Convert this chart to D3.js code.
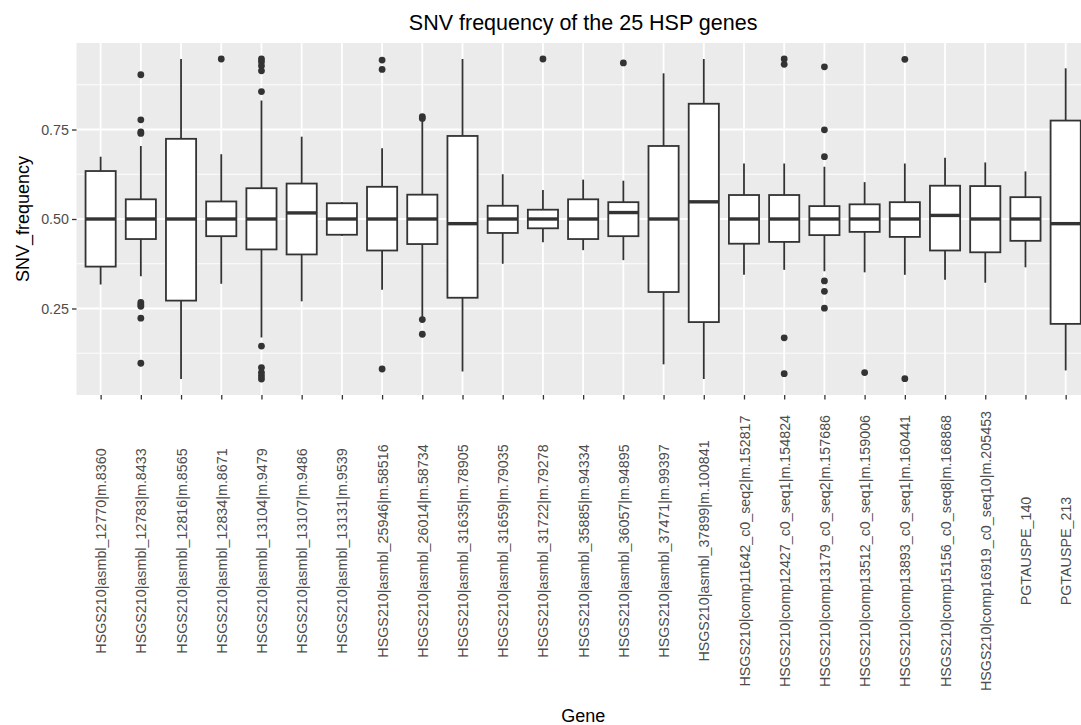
<!DOCTYPE html>
<html>
<head>
<meta charset="utf-8">
<script src="https://cdn.jsdelivr.net/npm/d3@7"></script>
<style>
  html, body { margin: 0; padding: 0; background: #fff; }
  svg { display: block; font-family: "Liberation Sans", Arial, Helvetica, sans-serif; }
</style>
</head>
<body>
<svg id="chart" width="1081" height="725"></svg>
<script>
// Genes on the x axis
const genes = [
  "HSGS210|asmbl_12770|m.8360",
  "HSGS210|asmbl_12783|m.8433",
  "HSGS210|asmbl_12816|m.8565",
  "HSGS210|asmbl_12834|m.8671",
  "HSGS210|asmbl_13104|m.9479",
  "HSGS210|asmbl_13107|m.9486",
  "HSGS210|asmbl_13131|m.9539",
  "HSGS210|asmbl_25946|m.58516",
  "HSGS210|asmbl_26014|m.58734",
  "HSGS210|asmbl_31635|m.78905",
  "HSGS210|asmbl_31659|m.79035",
  "HSGS210|asmbl_31722|m.79278",
  "HSGS210|asmbl_35885|m.94334",
  "HSGS210|asmbl_36057|m.94895",
  "HSGS210|asmbl_37471|m.99397",
  "HSGS210|asmbl_37899|m.100841",
  "HSGS210|comp11642_c0_seq2|m.152817",
  "HSGS210|comp12427_c0_seq1|m.154824",
  "HSGS210|comp13179_c0_seq2|m.157686",
  "HSGS210|comp13512_c0_seq1|m.159006",
  "HSGS210|comp13893_c0_seq1|m.160441",
  "HSGS210|comp15156_c0_seq8|m.168868",
  "HSGS210|comp16919_c0_seq10|m.205453",
  "PGTAUSPE_140",
  "PGTAUSPE_213"
];

// Box statistics of SNV frequency per gene
const whiskerLow  = [0.317, 0.340, 0.053, 0.319, 0.169, 0.270, 0.453, 0.302, 0.226, 0.074, 0.375, 0.435, 0.413, 0.385, 0.094, 0.053, 0.344, 0.358, 0.354, 0.351, 0.344, 0.330, 0.322, 0.365, 0.077];
const q1          = [0.367, 0.444, 0.272, 0.452, 0.415, 0.401, 0.456, 0.412, 0.430, 0.280, 0.461, 0.474, 0.444, 0.452, 0.296, 0.212, 0.431, 0.436, 0.455, 0.464, 0.450, 0.412, 0.407, 0.439, 0.207];
const median      = [0.500, 0.500, 0.500, 0.500, 0.500, 0.517, 0.500, 0.500, 0.500, 0.487, 0.500, 0.500, 0.500, 0.518, 0.500, 0.548, 0.500, 0.500, 0.500, 0.500, 0.500, 0.510, 0.500, 0.500, 0.487];
const q3          = [0.634, 0.555, 0.724, 0.549, 0.586, 0.599, 0.544, 0.590, 0.568, 0.732, 0.537, 0.526, 0.555, 0.547, 0.704, 0.822, 0.567, 0.567, 0.536, 0.541, 0.547, 0.593, 0.592, 0.561, 0.775];
const whiskerHigh = [0.674, 0.704, 0.947, 0.681, 0.831, 0.730, 0.547, 0.698, 0.774, 0.947, 0.625, 0.581, 0.610, 0.607, 0.907, 0.947, 0.655, 0.655, 0.646, 0.603, 0.655, 0.671, 0.658, 0.633, 0.921];
const outliers = [
  [],
  [0.903, 0.777, 0.743, 0.739, 0.267, 0.261, 0.256, 0.223, 0.097],
  [],
  [0.947],
  [0.947, 0.939, 0.928, 0.914, 0.856, 0.145, 0.085, 0.071, 0.062, 0.053],
  [],
  [],
  [0.944, 0.918, 0.081],
  [0.786, 0.781, 0.219, 0.178],
  [],
  [],
  [0.947],
  [],
  [0.936],
  [],
  [],
  [],
  [0.947, 0.932, 0.168, 0.068],
  [0.925, 0.749, 0.674, 0.327, 0.298, 0.251],
  [0.071],
  [0.946, 0.054],
  [],
  [],
  [],
  []
];

// Y axis breaks
const yTicks = [0.25, 0.50, 0.75];
const yTickLabels = ["0.25", "0.50", "0.75"];
const yMinorTicks = [0.125, 0.375, 0.625, 0.875];

const chartTitle = "SNV frequency of the 25 HSP genes";
const xTitle = "Gene";
const yTitle = "SNV_frequency";

const svg = d3.select("#chart");

const panel = { left: 76.5, right: 1089.8, top: 43, bottom: 395 };

const x = d3.scalePoint()
  .domain(genes)
  .range([panel.left, panel.right])
  .padding(0.6);

// Data extent with 5% expansion on each side
const allVals = whiskerLow.concat(whiskerHigh, outliers.flat());
const lo = d3.min(allVals), hi = d3.max(allVals);
const pad = (hi - lo) * 0.05;
const y = d3.scaleLinear()
  .domain([lo - pad, hi + pad])
  .range([panel.bottom, panel.top]);

const boxW = x.step() * 0.75;
const ink = "#333333";
const tickFont = "14.3px";

// Panel background
svg.append("rect")
  .attr("x", panel.left).attr("y", panel.top)
  .attr("width", panel.right - panel.left)
  .attr("height", panel.bottom - panel.top)
  .attr("fill", "#EBEBEB");

const grid = svg.append("g");
grid.selectAll("line.minor").data(yMinorTicks).join("line")
  .attr("x1", panel.left).attr("x2", panel.right)
  .attr("y1", d => y(d)).attr("y2", d => y(d))
  .attr("stroke", "#fff").attr("stroke-width", 0.9);
grid.selectAll("line.majorY").data(yTicks).join("line")
  .attr("x1", panel.left).attr("x2", panel.right)
  .attr("y1", d => y(d)).attr("y2", d => y(d))
  .attr("stroke", "#fff").attr("stroke-width", 1.8);
grid.selectAll("line.majorX").data(genes).join("line")
  .attr("x1", d => x(d)).attr("x2", d => x(d))
  .attr("y1", panel.top).attr("y2", panel.bottom)
  .attr("stroke", "#fff").attr("stroke-width", 1.8);

// Boxplots
const boxes = svg.append("g")
  .selectAll("g")
  .data(genes.map((g, i) => ({
    gene: g, lo: whiskerLow[i], q1: q1[i], med: median[i], q3: q3[i], hi: whiskerHigh[i], out: outliers[i]
  })))
  .join("g");

boxes.append("line")
  .attr("x1", d => x(d.gene)).attr("x2", d => x(d.gene))
  .attr("y1", d => y(d.q3)).attr("y2", d => y(d.hi))
  .attr("stroke", ink).attr("stroke-width", 1.8);
boxes.append("line")
  .attr("x1", d => x(d.gene)).attr("x2", d => x(d.gene))
  .attr("y1", d => y(d.q1)).attr("y2", d => y(d.lo))
  .attr("stroke", ink).attr("stroke-width", 1.8);
boxes.append("rect")
  .attr("x", d => x(d.gene) - boxW / 2)
  .attr("width", boxW)
  .attr("y", d => y(d.q3))
  .attr("height", d => y(d.q1) - y(d.q3))
  .attr("fill", "#fff")
  .attr("stroke", ink).attr("stroke-width", 1.8);
boxes.append("line")
  .attr("x1", d => x(d.gene) - boxW / 2).attr("x2", d => x(d.gene) + boxW / 2)
  .attr("y1", d => y(d.med)).attr("y2", d => y(d.med))
  .attr("stroke", ink).attr("stroke-width", 3.4);
boxes.selectAll("circle")
  .data(d => d.out.map(v => ({ gene: d.gene, v })))
  .join("circle")
  .attr("cx", d => x(d.gene))
  .attr("cy", d => y(d.v))
  .attr("r", 3.4)
  .attr("fill", ink);

// Y axis
const yAxis = d3.axisLeft(y)
  .tickValues(yTicks)
  .tickFormat((d, i) => yTickLabels[i])
  .tickSize(4.5)
  .tickPadding(3);
const gy = svg.append("g")
  .attr("transform", `translate(${panel.left},0)`)
  .call(yAxis);
gy.select(".domain").remove();
gy.selectAll(".tick line").attr("stroke", ink).attr("stroke-width", 1.3);
gy.selectAll(".tick text")
  .attr("fill", "#4D4D4D")
  .style("font-size", tickFont)
  .style("font-family", "'Liberation Sans', Arial, sans-serif");

// X axis
const xAxis = d3.axisBottom(x).tickSize(4.5).tickPadding(0);
const gx = svg.append("g")
  .attr("transform", `translate(0,${panel.bottom})`)
  .call(xAxis);
gx.select(".domain").remove();
gx.selectAll(".tick line").attr("stroke", ink).attr("stroke-width", 1.3);
gx.selectAll(".tick text")
  .attr("fill", "#4D4D4D")
  .style("font-size", tickFont)
  .style("font-family", "'Liberation Sans', Arial, sans-serif")
  .attr("text-anchor", "middle")
  .attr("transform", "translate(0,156) rotate(-90)")
  .attr("x", 0)
  .attr("y", 0)
  .attr("dy", "0.35em");

// Titles
svg.append("text")
  .attr("x", (panel.left + panel.right) / 2)
  .attr("y", 30)
  .attr("text-anchor", "middle")
  .style("font-size", "21.5px")
  .attr("fill", "#000")
  .text(chartTitle);

svg.append("text")
  .attr("x", (panel.left + panel.right) / 2)
  .attr("y", 722)
  .attr("text-anchor", "middle")
  .style("font-size", "18px")
  .attr("fill", "#000")
  .text(xTitle);

svg.append("text")
  .attr("transform", `translate(29,${(panel.top + panel.bottom) / 2}) rotate(-90)`)
  .attr("text-anchor", "middle")
  .style("font-size", "18px")
  .attr("fill", "#000")
  .text(yTitle);
</script>
</body>
</html>
